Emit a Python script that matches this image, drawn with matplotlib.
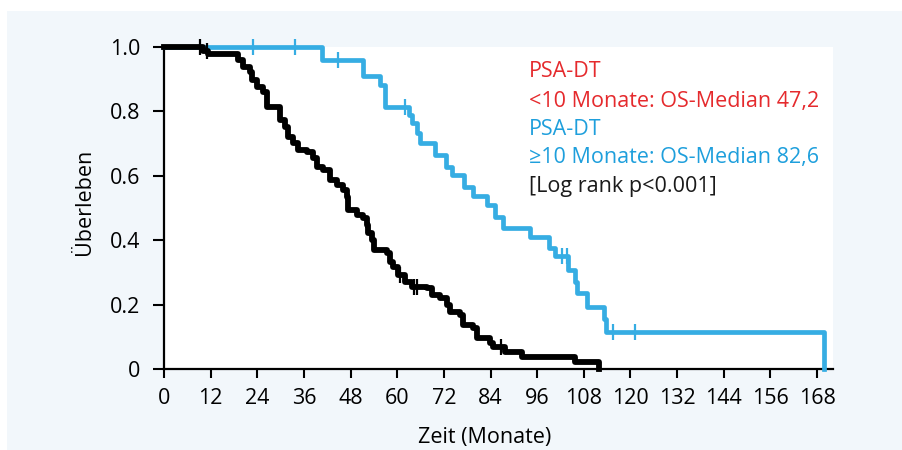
import numpy as np
import matplotlib
matplotlib.use("Agg")
import matplotlib.pyplot as plt
from matplotlib.patches import Rectangle

plt.rcParams['font.family'] = ['Open Sans', 'DejaVu Sans']

# Kaplan-Meier curves (months, survival after step)
low_t = [0, 10.1, 11.4, 19.1, 20.4, 22.1, 22.6, 23.8, 25.5, 26.4, 29.8, 31.1, 32.0, 33.3,
         34.6, 36.7, 38.4, 39.3, 41.0, 42.7, 44.4, 46.1, 47.0, 47.4, 49.6, 51.3, 52.1, 52.5,
         53.4, 53.9, 57.3, 58.1, 59.0, 60.3, 62.0, 63.7, 67.6, 68.9, 71.0, 72.7, 73.6, 76.2,
         77.0, 79.6, 80.4, 83.9, 84.7, 87.7, 92.0, 105.7, 112.0]
low_s = [1.0, 0.989, 0.978, 0.960, 0.939, 0.923, 0.898, 0.877, 0.861, 0.815, 0.774, 0.753,
         0.722, 0.701, 0.680, 0.675, 0.655, 0.629, 0.618, 0.587, 0.572, 0.556, 0.536, 0.494,
         0.479, 0.468, 0.448, 0.422, 0.401, 0.370, 0.360, 0.334, 0.318, 0.293, 0.272, 0.256,
         0.251, 0.231, 0.220, 0.200, 0.179, 0.168, 0.137, 0.127, 0.096, 0.081, 0.070, 0.055,
         0.039, 0.024, 0.0]
low_cens = [9.3, 11.1, 60.7, 64.3, 65.2, 86.6]

high_t = [0, 40.6, 51.1, 55.6, 56.9, 63.1, 63.7, 65.0, 65.9, 69.7, 72.5, 74.0, 77.2, 79.4,
          83.0, 85.2, 87.1, 94.2, 99.1, 100.6, 104.0, 105.7, 106.2, 108.8, 113.2, 113.8, 169.8]
high_s = [1.0, 0.960, 0.910, 0.882, 0.815, 0.789, 0.764, 0.733, 0.702, 0.665, 0.629, 0.603,
          0.567, 0.538, 0.510, 0.474, 0.439, 0.411, 0.375, 0.352, 0.308, 0.272, 0.236, 0.194,
          0.156, 0.117, 0.0]
high_cens = [22.9, 33.7, 44.8, 62.0, 102.3, 103.6, 115.5, 121.2]

xticks = list(range(0, 169, 12))
yticks = [0, 0.2, 0.4, 0.6, 0.8, 1.0]
ytick_labels = ["0", "0.2", "0.4", "0.6", "0.8", "1.0"]

legend_lines = [
    ("PSA-DT", "#e52a2d"),
    ("<10 Monate: OS-Median 47,2", "#e52a2d"),
    ("PSA-DT", "#1e9fdc"),
    ("≥10 Monate: OS-Median 82,6", "#1e9fdc"),
    ("[Log rank p<0.001]", "#1a1a1a"),
]

BG = "#f2f7fb"
BLUE = "#36ade3"
FS = 15.5

W, H = 902, 450
fig = plt.figure(figsize=(W / 100, H / 100), dpi=100, facecolor="white")
fig.patches.append(Rectangle((7 / W, 0), 1, 1 - 11 / H, transform=fig.transFigure,
                             facecolor=BG, edgecolor="none", zorder=-10))

ax = fig.add_axes([164 / W, 1 - 369.3 / H, (833 - 164) / W, (369.3 - 47) / H])
ax.set_facecolor("white")


def at(t, s, c):
    i = np.searchsorted(t, c, side="right") - 1
    return [s[j] for j in i]


ax.step(high_t, high_s, where="post", color=BLUE, lw=3.4, clip_on=False, zorder=3)
ax.plot(high_cens, at(high_t, high_s, high_cens), ls="none", marker="|", ms=11,
        mew=1.6, color=BLUE, clip_on=False, zorder=3)
ax.step(low_t, low_s, where="post", color="black", lw=4.2, clip_on=False, zorder=4)
ax.plot(low_cens, at(low_t, low_s, low_cens), ls="none", marker="|", ms=12,
        mew=1.6, color="black", clip_on=False, zorder=4)

ax.set_xlim(0, 172.1)
ax.set_ylim(0, 1.0)
ax.set_xticks(xticks)
ax.set_yticks(yticks)
ax.set_yticklabels(ytick_labels)
for sp in ["top", "right"]:
    ax.spines[sp].set_visible(False)
for sp in ["left", "bottom"]:
    ax.spines[sp].set_linewidth(1.6)
ax.tick_params(axis="both", labelsize=FS, width=1.5, colors="black")
ax.tick_params(axis="x", length=6.5, pad=7)
ax.tick_params(axis="y", length=8, pad=9)

fig.text(485 / W, 1 - 437 / H, "Zeit (Monate)", ha="center", va="center", fontsize=FS)
fig.text(85 / W, 1 - 202 / H, "Überleben", ha="center", va="center", rotation=90, fontsize=FS)

base = [77.3, 106.7, 135, 163.3, 192]
for (txt, col), py in zip(legend_lines, base):
    fig.text(529 / W, 1 - py / H, txt, color=col, fontsize=FS, ha="left", va="baseline")

fig.savefig("out.png", dpi=100, facecolor=fig.get_facecolor())
